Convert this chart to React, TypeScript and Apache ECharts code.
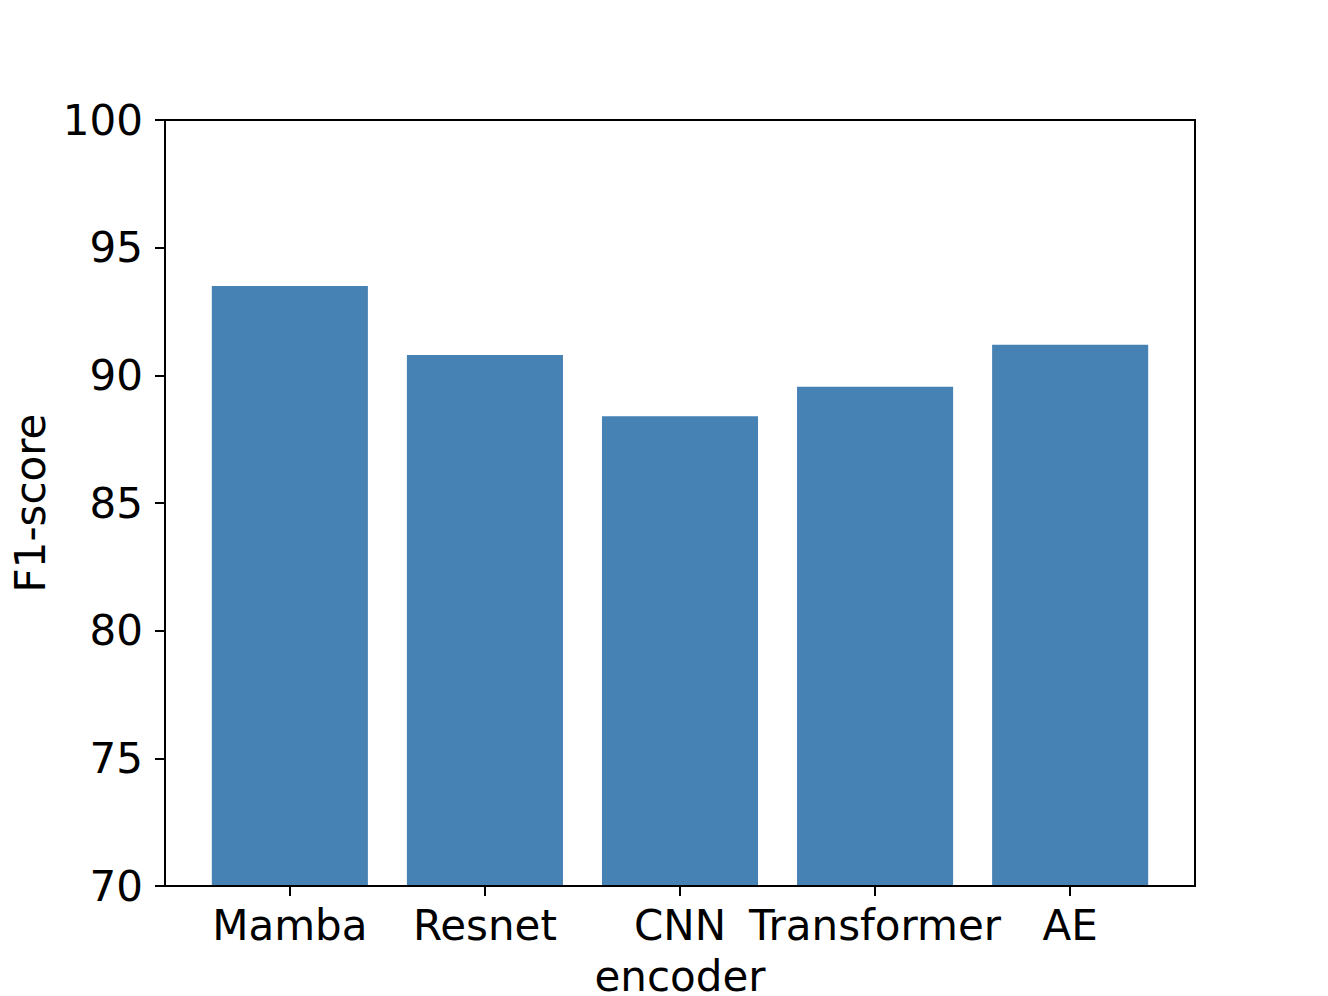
import React, { useEffect, useRef } from "react";
import * as echarts from "echarts";

const categories = ["Mamba", "Resnet", "CNN", "Transformer", "AE"];
const f1Scores = [93.5, 90.8, 88.4, 89.55, 91.2];
const yTicks = { min: 70, max: 100, interval: 5 };

export default function App() {
  const ref = useRef<HTMLDivElement>(null);
  useEffect(() => {
    if (!ref.current) return;
    const chart = echarts.init(ref.current, null, { renderer: "svg" });
    const font = "DejaVu Sans";
    // matplotlib style: x range -0.64..4.64 over plot width 1030px
    const plotLeft = 165;
    const plotRight = 1195;
    const unit = (plotRight - plotLeft) / 5.28;
    const innerLeft = plotLeft + 0.14 * unit;
    const innerWidth = 5 * unit;
    chart.setOption({
      animation: false,
      backgroundColor: "#ffffff",
      textStyle: { fontFamily: font },
      grid: [
        {
          left: plotLeft,
          right: 1328 - plotRight,
          top: 120,
          bottom: 110,
          show: true,
          borderColor: "#000",
          borderWidth: 2,
          backgroundColor: "transparent",
          containLabel: false,
          outerBoundsMode: "none",
          z: 5,
        },
        {
          left: innerLeft,
          width: innerWidth,
          top: 120,
          bottom: 110,
          containLabel: false,
          outerBoundsMode: "none",
        },
      ],
      xAxis: [
        { type: "value", gridIndex: 0, min: 0, max: 1, show: false },
        {
          type: "category",
          gridIndex: 1,
          data: categories,
          axisLine: { show: false },
          axisTick: {
            show: true,
            alignWithLabel: true,
            length: 10,
            lineStyle: { color: "#000", width: 2 },
          },
          axisLabel: {
            fontSize: 42,
            color: "#000",
            fontFamily: font,
            margin: 18,
            interval: 0,
          },
          name: "encoder",
          nameLocation: "middle",
          nameGap: 69,
          nameMoveOverlap: false,
          nameTextStyle: {
            fontSize: 42,
            color: "#000",
            fontFamily: font,
            verticalAlign: "top",
          },
        },
      ],
      yAxis: [
        {
          type: "value",
          gridIndex: 0,
          min: yTicks.min,
          max: yTicks.max,
          interval: yTicks.interval,
          axisLine: { show: false },
          splitLine: { show: false },
          axisTick: {
            show: true,
            length: 10,
            lineStyle: { color: "#000", width: 2 },
          },
          axisLabel: {
            fontSize: 42,
            color: "#000",
            fontFamily: font,
            margin: 22,
          },
          name: "F1-score",
          nameLocation: "middle",
          nameGap: 135,
          nameMoveOverlap: false,
          nameTextStyle: {
            fontSize: 42,
            color: "#000",
            fontFamily: font,
            verticalAlign: "middle",
          },
        },
        {
          type: "value",
          gridIndex: 1,
          min: yTicks.min,
          max: yTicks.max,
          interval: yTicks.interval,
          show: false,
          splitLine: { show: false },
        },
      ],
      series: [
        {
          type: "bar",
          xAxisIndex: 1,
          yAxisIndex: 1,
          data: f1Scores,
          barWidth: "80%",
          itemStyle: { color: "#4682B4" },
        },
      ],
    });
    return () => chart.dispose();
  }, []);
  return (
    <div
      ref={ref}
      style={{ position: "fixed", left: 0, top: 0, width: 1328, height: 996 }}
    />
  );
}
